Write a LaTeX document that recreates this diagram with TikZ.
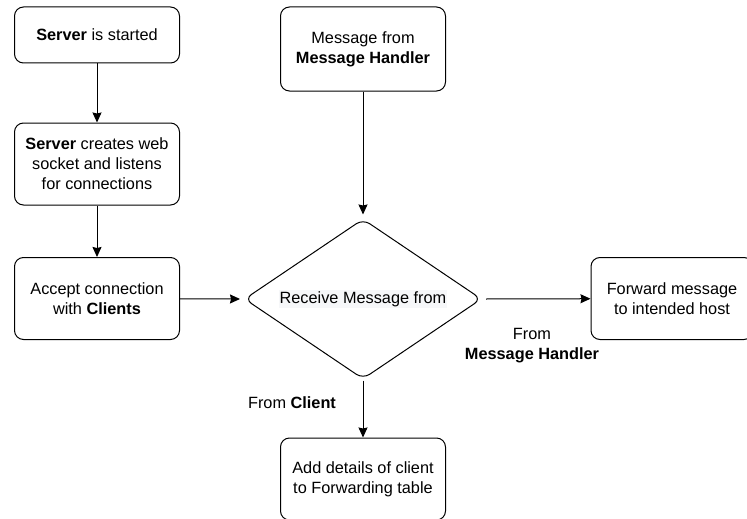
\documentclass[tikz,border=0pt]{standalone}
\usepackage{fontspec}
\setmainfont{Liberation Sans}
\usepackage{tikz}
\usetikzlibrary{shapes.geometric}
\usetikzlibrary{arrows.meta}
\usetikzlibrary{positioning}
\definecolor{hlgray}{HTML}{F6F7F9}
\tikzset{
  stepbox/.style={draw, line width=1pt, rounded corners=9pt, align=center,
    minimum width=165pt, minimum height=82pt, inner sep=2pt},
  choice/.style={draw, diamond, aspect=1.48, line width=1pt, rounded corners=8pt,
    minimum width=237pt, minimum height=160pt, inner sep=0pt},
  note/.style={align=center, inner sep=1pt}
}

\begin{document}
\begin{tikzpicture}[x=1pt, y=-1pt, >={Stealth[length=10pt,width=9pt,inset=1pt]},
    font=\fontsize{16.3}{20}\selectfont]
  \useasboundingbox (0,0) rectangle (747,519);
  \node (start) [stepbox, minimum height=56pt] at (97,35) {\textbf{Server} is started};
  \node (listen) [stepbox] at (97,164) {\textbf{Server} creates web\\socket and listens\\for connections};
  \node (accept) [stepbox] at (97,298.5) {Accept connection\\with \textbf{Clients}};
  \node (recv) [choice] at (363,299) {\setlength{\fboxsep}{1pt}\colorbox{hlgray}{Receive Message from}};
  \node (handler) [stepbox, minimum height=84pt] at (363,49) {Message from\\\textbf{Message Handler}};
  \node (fwd) [stepbox, minimum width=162pt] at (672,298.5) {Forward message\\to intended host};
  \node (table) [stepbox] at (363,479) {Add details of client\\to Forwarding table};
  \node (fromhandler) [note] at (532,346) {From\\\textbf{Message Handler}};
  \node (fromclient) [note] at (292,403) {From \textbf{Client}};
  \draw [->,line width=1pt] (start) -- (listen);
  \draw [->,line width=1pt] (listen) -- (accept);
  \draw [->,line width=1pt] (accept) -- ([xshift=-4pt]recv.west);
  \draw [->,line width=1pt] (handler) -- ([yshift=4pt]recv.north);
  \draw [->,line width=1pt] ([xshift=4pt]recv.east) -- (fwd);
  \draw [->,line width=1pt] ([yshift=-1pt]recv.south) -- (table);
\end{tikzpicture}
\end{document}
